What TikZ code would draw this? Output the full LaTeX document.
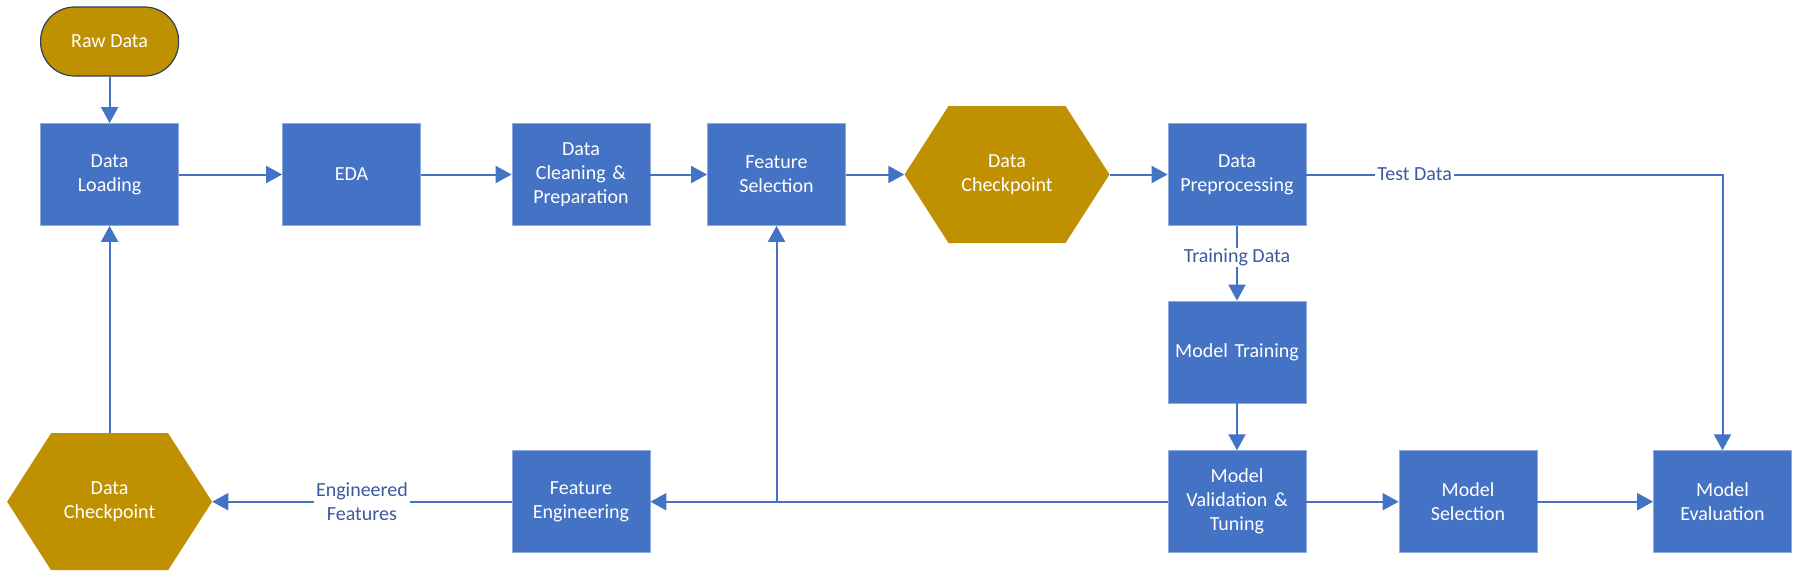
\documentclass[tikz,border=0pt]{standalone}
\usepackage{fontspec}
\setmainfont{Carlito}
\usetikzlibrary{arrows.meta,calc}
\definecolor{boxblue}{HTML}{4472C4}
\definecolor{boxedge}{HTML}{8FAADC}
\definecolor{goldfill}{HTML}{BF9000}
\definecolor{termedge}{HTML}{2F3F60}
\definecolor{labelblue}{HTML}{3B5A9E}
\begin{document}
\begin{tikzpicture}[x=1pt,y=-1pt,
  proc/.style={rectangle, fill=boxblue, draw=boxedge, line width=0.8pt,
    minimum width=138pt, minimum height=102pt, text width=134pt, align=center,
    text=white, font=\fontsize{20}{24}\selectfont, inner sep=0pt},
  term/.style={rectangle, rounded corners=34pt, fill=goldfill, draw=termedge, line width=1.2pt,
    minimum width=138pt, minimum height=69pt, align=center,
    text=white, font=\fontsize{20}{24}\selectfont, inner sep=0pt},
  hexbox/.style={rectangle, minimum width=205pt, minimum height=137pt, inner sep=0pt,
    align=center, text=white, font=\fontsize{20}{24}\selectfont,
    path picture={\fill[goldfill] (path picture bounding box.west)
      -- ([xshift=44pt]path picture bounding box.north west)
      -- ([xshift=-44pt]path picture bounding box.north east)
      -- (path picture bounding box.east)
      -- ([xshift=-44pt]path picture bounding box.south east)
      -- ([xshift=44pt]path picture bounding box.south west) -- cycle;}},
  conn/.style={draw=boxblue, line width=2pt, -{Triangle[length=16pt,width=17pt]}},
  lbl/.style={fill=white, text=labelblue, font=\fontsize{20}{24}\selectfont,
    inner xsep=2pt, inner ysep=1pt, align=center}]
\path[use as bounding box] (0,0) rectangle (1797,582);

\node[term] (raw) at (109.6,41.5) {Raw Data};
\node[proc] (load) at (109.6,174.5) {Data\\Loading};
\node[proc] (eda) at (351.5,174.5) {EDA};
\node[proc] (clean) at (581,174.5) {Data\\Cleaning \&\\Preparation};
\node[proc] (fsel) at (776.5,174.5) {Feature\\Selection};
\node[hexbox] (ck1) at (1007,174.5) {Data\\Checkpoint};
\node[proc] (prep) at (1237,174.5) {Data\\Preprocessing};
\node[proc] (train) at (1237,352) {Model Training};
\node[proc] (valid) at (1237,501.7) {Model\\Validation \&\\Tuning};
\node[proc] (msel) at (1468,501.7) {Model\\Selection};
\node[proc] (meval) at (1722.5,501.7) {Model\\Evaluation};
\node[proc] (feng) at (581,501.7) {Feature\\Engineering};
\node[hexbox] (ck2) at (109.6,501.7) {Data\\Checkpoint};

\draw[conn] (raw) -- (load);
\draw[conn] (load) -- (eda);
\draw[conn] (eda) -- (clean);
\draw[conn] (clean) -- (fsel);
\draw[conn] (fsel) -- (ck1);
\draw[conn] (ck1) -- (prep);
\draw[conn] (prep.east) -| node[lbl, pos=0.13] {Test Data} (meval.north);
\draw[conn] (prep) -- node[lbl, pos=0.42] {Training Data} (train);
\draw[conn] (train) -- (valid);
\draw[conn] (valid) -- (msel);
\draw[conn] (msel) -- (meval);
\draw[conn] (valid) -- (feng);
\coordinate (br) at (fsel.south |- valid.west);
\draw[conn] (br) -- (fsel);
\draw[conn] (feng) -- node[lbl] {Engineered\\Features} (ck2);
\draw[conn] (ck2) -- (load);
\end{tikzpicture}
\end{document}
